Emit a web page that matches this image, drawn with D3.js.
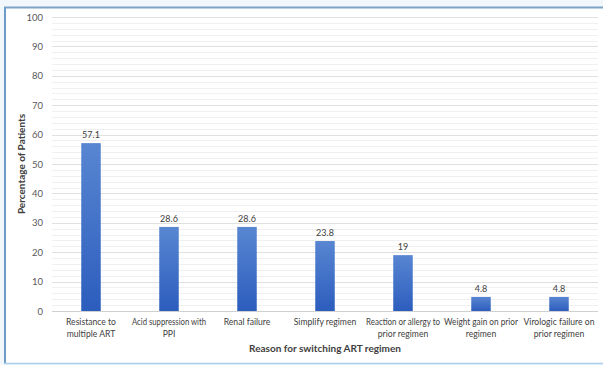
<!DOCTYPE html>
<html><head><meta charset="utf-8">
<script src="https://cdn.jsdelivr.net/npm/d3@7"></script>
<style>
html,body{margin:0;padding:0;background:#f2f7fc;}
svg{display:block;font-family:Lato,"Open Sans","Liberation Sans",sans-serif;}
</style></head>
<body>
<svg id="c" width="603" height="365"></svg>
<script>
const categories = [
  ["Resistance to","multiple ART"],
  ["Acid suppression with","PPI"],
  ["Renal failure"],
  ["Simplify regimen"],
  ["Reaction or allergy to","prior regimen"],
  ["Weight gain on prior","regimen"],
  ["Virologic failure on","prior regimen"]
];
const values = [57.1, 28.6, 28.6, 23.8, 19, 4.8, 4.8];
const yTicks = [0,10,20,30,40,50,60,70,80,90,100];
const yMinor = d3.range(0, 101, 2);

const svg = d3.select("#c");
// frame
svg.append("rect").attr("x",5).attr("y",8).attr("width",610).attr("height",355)
  .attr("fill","#ffffff");
svg.append("line").attr("x1",4).attr("x2",603).attr("y1",7.5).attr("y2",7.5).attr("stroke","#7fa3c6").attr("stroke-width",2);
svg.append("line").attr("x1",5).attr("x2",5).attr("y1",7).attr("y2",364).attr("stroke","#6e9bc8").attr("stroke-width",2);
svg.append("line").attr("x1",4).attr("x2",603).attr("y1",363.5).attr("y2",363.5).attr("stroke","#a9cdea").attr("stroke-width",1.5);

const m = {l:52, r:598, t:17, b:311};
const x = d3.scaleBand().domain(d3.range(values.length)).range([m.l, m.r]).paddingInner(0).paddingOuter(0);
const y = d3.scaleLinear().domain([0,100]).range([m.b, m.t]);

const defs = svg.append("defs");
const g = defs.append("linearGradient").attr("id","bg").attr("x1",0).attr("x2",0).attr("y1",0).attr("y2",1);
g.append("stop").attr("offset","0%").attr("stop-color","#5886d2");
g.append("stop").attr("offset","100%").attr("stop-color","#2c5dbd");

// minor grid
svg.append("g").selectAll("line").data(yMinor.filter(v=>v%10!==0)).join("line")
  .attr("x1",m.l).attr("x2",m.r).attr("y1",d=>Math.round(y(d))+0.5).attr("y2",d=>Math.round(y(d))+0.5)
  .attr("stroke","#f0f0f0").attr("stroke-width",1);
// major grid
svg.append("g").selectAll("line").data(yTicks).join("line")
  .attr("x1",m.l).attr("x2",m.r).attr("y1",d=>Math.round(y(d))+0.5).attr("y2",d=>Math.round(y(d))+0.5)
  .attr("stroke",d=>d===0?"#d0d0d0":"#e0e0e0").attr("stroke-width",1);

// y axis labels
const yAxis = d3.axisLeft(y).tickValues(yTicks).tickSize(0).tickPadding(0);
const ya = svg.append("g").attr("transform",`translate(${m.l-9},0)`).call(yAxis);
ya.select(".domain").remove();
ya.selectAll("text").attr("fill","#595959").attr("font-size",9.5).attr("font-family","Lato,sans-serif");

// bars
const bw = 19.5;
svg.append("g").selectAll("rect").data(values).join("rect")
  .attr("x",(d,i)=>x(i)+x.bandwidth()/2-bw/2).attr("width",bw)
  .attr("y",d=>y(d)).attr("height",d=>y(0)-y(d))
  .attr("fill","url(#bg)");

// value labels
svg.append("g").selectAll("text").data(values).join("text")
  .attr("x",(d,i)=>x(i)+x.bandwidth()/2).attr("y",d=>y(d)-5)
  .attr("text-anchor","middle").attr("font-size",9).attr("fill","#404040")
  .text(d=>d);

// x labels
const xl = svg.append("g").selectAll("text").data(categories).join("text")
  .attr("x",(d,i)=>x(i)+x.bandwidth()/2).attr("y",325)
  .attr("text-anchor","middle").attr("font-size",8.6).attr("fill","#404040");
xl.selectAll("tspan").data(d=>d).join("tspan")
  .attr("x",function(){return this.parentNode.getAttribute("x");})
  .attr("dy",(d,i)=>i===0?0:11.5).text(d=>d);
// keep labels within ~75px (narrow Calibri-like look)
xl.selectAll("tspan").each(function(){
  const w = this.getComputedTextLength();
  if (w > 74) { d3.select(this).attr("textLength",74).attr("lengthAdjust","spacingAndGlyphs"); }
});

// axis titles
svg.append("text").attr("x",325).attr("y",352).attr("text-anchor","middle")
  .attr("font-size",10).attr("font-weight","bold").attr("fill","#404040")
  .text("Reason for switching ART regimen");
svg.append("text").attr("transform",`translate(25,${(m.t+m.b)/2}) rotate(-90)`)
  .attr("text-anchor","middle").attr("font-size",10).attr("font-weight","bold").attr("fill","#404040")
  .text("Percentage of Patients");
</script>
</body></html>
